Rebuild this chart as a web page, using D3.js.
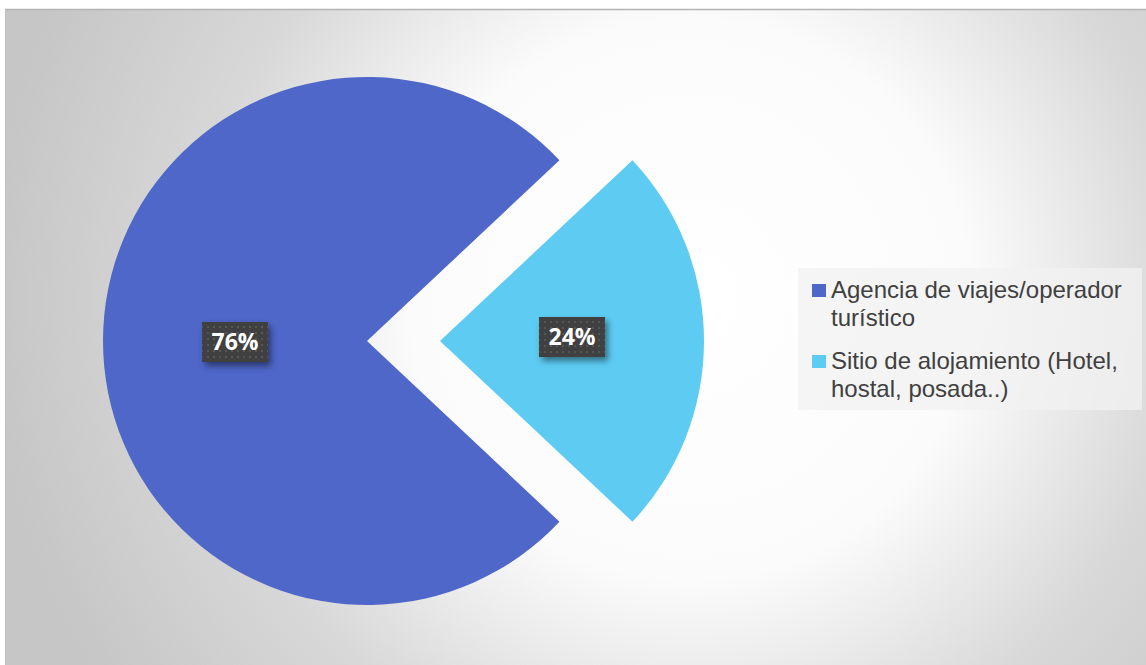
<!DOCTYPE html>
<html>
<head>
<meta charset="utf-8">
<script src="https://cdn.jsdelivr.net/npm/d3@7"></script>
<style>
html,body{margin:0;padding:0;background:#fff;}
svg{display:block;}
</style>
</head>
<body>
<svg id="chart" width="1146" height="665"></svg>
<script>
const categories = ["Agencia de viajes/operador turístico", "Sitio de alojamiento (Hotel, hostal, posada..)"];
const values = [76, 24];
const valueLabels = ["76%", "24%"];
const legendLines = [["Agencia de viajes/operador", "turístico"], ["Sitio de alojamiento (Hotel,", "hostal, posada..)"]];
const colors = ["#4e67c8", "#5dcbf2"];
const explode = [0, 73];

const svg = d3.select("#chart");
const W = 1146, H = 665;
const defs = svg.append("defs");

const rg = defs.append("radialGradient").attr("id", "bg")
  .attr("gradientUnits", "userSpaceOnUse")
  .attr("cx", 690).attr("cy", 300).attr("r", 700);
rg.append("stop").attr("offset", "0").attr("stop-color", "#ffffff");
rg.append("stop").attr("offset", "0.4").attr("stop-color", "#fbfbfb");
rg.append("stop").attr("offset", "0.7").attr("stop-color", "#d8d8d8");
rg.append("stop").attr("offset", "1").attr("stop-color", "#c6c6c6");

const pat = defs.append("pattern").attr("id", "dots")
  .attr("patternUnits", "userSpaceOnUse").attr("width", 6).attr("height", 6);
pat.append("rect").attr("width", 6).attr("height", 6).attr("fill", "#3f3f3f");
pat.append("rect").attr("x", 2).attr("y", 2).attr("width", 2).attr("height", 2).attr("fill", "#565656");

const sh = defs.append("filter").attr("id", "shadow").attr("x", "-30%").attr("y", "-30%").attr("width", "170%").attr("height", "190%");
sh.append("feDropShadow").attr("dx", 3).attr("dy", 4).attr("stdDeviation", 3).attr("flood-color", "#000").attr("flood-opacity", 0.45);

// background
svg.append("rect").attr("x", 5).attr("y", 9).attr("width", W).attr("height", H).attr("fill", "url(#bg)");
svg.append("line").attr("x1", 5).attr("x2", W).attr("y1", 9.5).attr("y2", 9.5).attr("stroke", "#b4b4b4").attr("stroke-width", 1.5);
svg.append("line").attr("x1", 5.5).attr("x2", 5.5).attr("y1", 9).attr("y2", H).attr("stroke", "#c0c0c0").attr("stroke-width", 1);

// pie
const cx = 367, cy = 341, R = 264;
const total = d3.sum(values);
const pie = d3.pie().sort(null).value(d => d)
  .startAngle(Math.PI / 2 + (values[1] / total) * Math.PI)
  .endAngle(Math.PI / 2 + (values[1] / total) * Math.PI + 2 * Math.PI);
const arcs = pie(values);
const arc = d3.arc().innerRadius(0).outerRadius(R);

const g = svg.append("g").attr("transform", `translate(${cx},${cy})`);
const slices = g.selectAll("g.slice").data(arcs).enter().append("g")
  .attr("class", "slice")
  .attr("transform", (d, i) => {
    const a = (d.startAngle + d.endAngle) / 2;
    return `translate(${explode[i] * Math.sin(a)},${-explode[i] * Math.cos(a)})`;
  });
slices.append("path").attr("d", arc).attr("fill", (d, i) => colors[i]);

// labels
const labelArc = d3.arc().innerRadius(R * 0.5).outerRadius(R * 0.5);
slices.each(function (d, i) {
  const [lx, ly] = labelArc.centroid(d);
  const s = d3.select(this);
  const lg = s.append("g").attr("transform", `translate(${lx},${ly + (i === 0 ? 1 : -4)})`);
  const bw = 66, bh = 40;
  lg.append("rect").attr("x", -bw / 2).attr("y", -bh / 2).attr("width", bw).attr("height", bh)
    .attr("fill", "url(#dots)").attr("filter", "url(#shadow)");
  lg.append("text").attr("text-anchor", "middle").attr("dy", "0.36em")
    .attr("font-family", "'Open Sans', sans-serif").attr("font-weight", "bold")
    .attr("font-size", 23).attr("fill", "#ffffff").text(valueLabels[i]);
});

// legend
const leg = svg.append("g");
leg.append("rect").attr("x", 798).attr("y", 268).attr("width", 344).attr("height", 142)
  .attr("fill", "#f2f2f2").attr("opacity", 0.75);
const legFont = "'Liberation Sans', Arial, sans-serif";
// fit font size so the first line matches the reference width
const probe = leg.append("text").attr("font-family", legFont).attr("font-size", 23).text(legendLines[0][0]);
const pw = probe.node().getComputedTextLength();
probe.remove();
const legSize = Math.max(20, Math.min(24, 23 * 292 / pw));
const entryY = [284, 355];
legendLines.forEach((lines, i) => {
  leg.append("rect").attr("x", 812).attr("y", entryY[i]).attr("width", 14).attr("height", 13).attr("fill", colors[i]);
  lines.forEach((ln, j) => {
    leg.append("text").attr("font-family", legFont).attr("font-size", legSize)
      .attr("fill", "#404040")
      .attr("x", 831).attr("y", entryY[i] + 13.5 + j * 28).text(ln);
  });
});
</script>
</body>
</html>
